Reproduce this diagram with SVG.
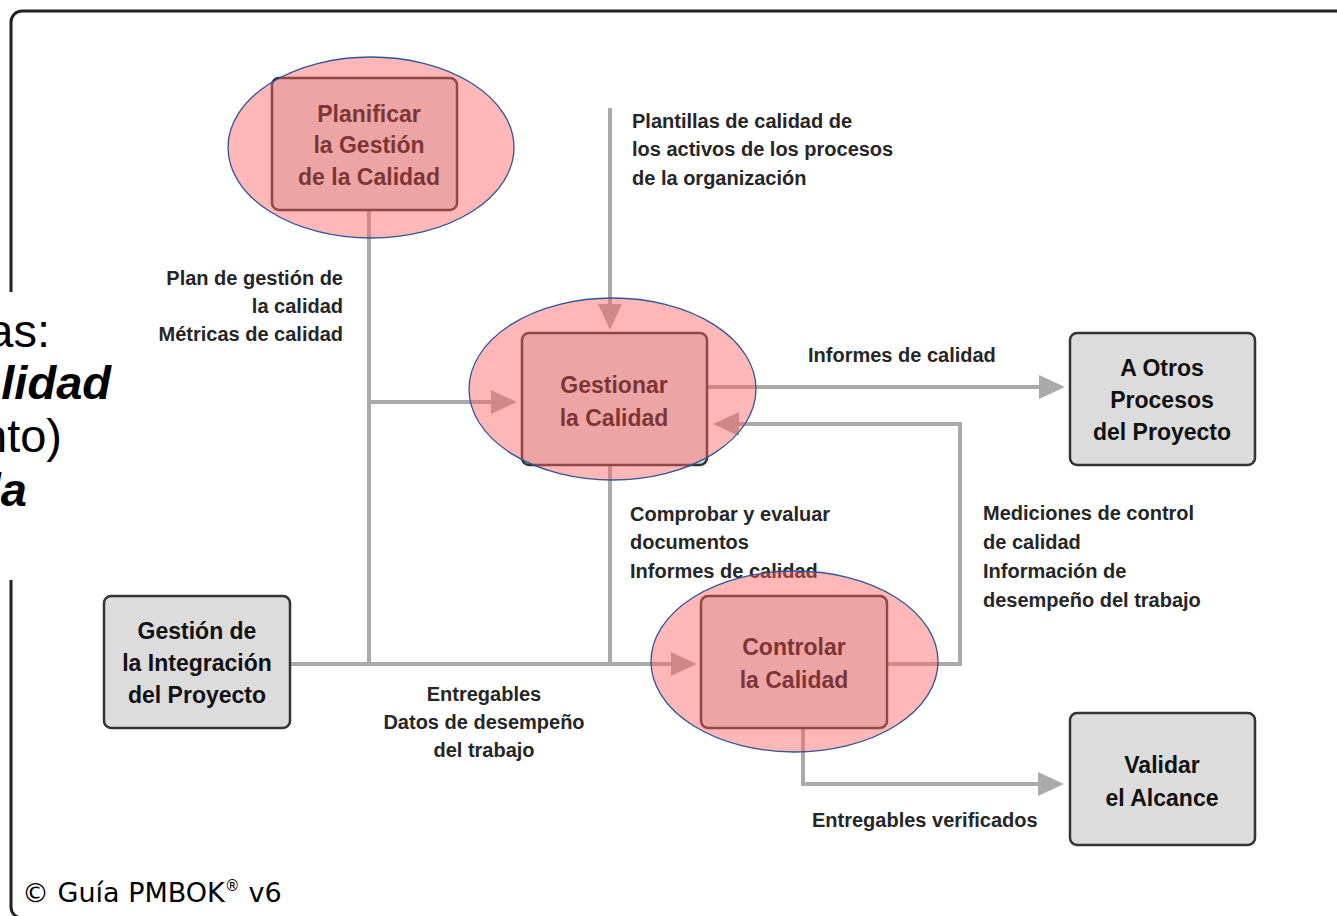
<svg xmlns="http://www.w3.org/2000/svg" width="1337" height="916" viewBox="0 0 1337 916">
<style>
.box{fill:#dcdcdc;stroke:#333;stroke-width:2.5}
.bt{font-family:"Liberation Sans",Arial,sans-serif;font-weight:bold;font-size:23px;fill:#111;text-anchor:middle}
.lb{font-family:"Liberation Sans",Arial,sans-serif;font-weight:bold;font-size:20px;fill:#262626}
.cn{fill:none;stroke:#aaaaaa;stroke-width:4}
.hl{fill:#ff6060;fill-opacity:0.45;stroke:#2f5597;stroke-width:1.3}
.big{font-family:"Liberation Sans",Arial,sans-serif;font-size:47px;fill:#000;text-anchor:end}
</style>
<defs>
<marker id="ah" markerUnits="userSpaceOnUse" markerWidth="26" markerHeight="24" refX="4" refY="12" orient="auto">
<path d="M0,0 L26,12 L0,24 z" fill="#aaaaaa"/>
</marker>
</defs>
<rect x="0" y="0" width="1337" height="916" fill="#ffffff"/>
<rect id="frame" x="11" y="11" width="1345" height="907" rx="11" fill="#ffffff" stroke="#222" stroke-width="3"/>
<g id="connectors">
<path class="cn" d="M369,210 V664"/>
<path class="cn" d="M369,402 H495" marker-end="url(#ah)"/>
<path class="cn" d="M610,108 V308" marker-end="url(#ah)"/>
<path class="cn" d="M707,387 H1043" marker-end="url(#ah)"/>
<path class="cn" d="M887,664 H960 V424 H735" marker-end="url(#ah)"/>
<path class="cn" d="M610,465 V664"/>
<path class="cn" d="M290,664 H675" marker-end="url(#ah)"/>
<path class="cn" d="M803,728 V784 H1042" marker-end="url(#ah)"/>
</g>
<g id="planificar">
<rect class="box" x="272" y="78" width="185" height="132" rx="7"/>
<text class="bt" x="369" y="122">Planificar</text>
<text class="bt" x="369" y="153">la Gestión</text>
<text class="bt" x="369" y="185">de la Calidad</text>
</g>
<g id="gestionar">
<rect class="box" x="522" y="333" width="185" height="132" rx="7"/>
<text class="bt" x="614" y="393">Gestionar</text>
<text class="bt" x="614" y="426">la Calidad</text>
</g>
<g id="controlar">
<rect class="box" x="701" y="596" width="186" height="132" rx="7"/>
<text class="bt" x="794" y="655">Controlar</text>
<text class="bt" x="794" y="688">la Calidad</text>
</g>
<g id="otros">
<rect class="box" x="1070" y="333" width="185" height="132" rx="7"/>
<text class="bt" x="1162" y="376">A Otros</text>
<text class="bt" x="1162" y="408">Procesos</text>
<text class="bt" x="1162" y="440">del Proyecto</text>
</g>
<g id="integracion">
<rect class="box" x="104" y="596" width="186" height="132" rx="7"/>
<text class="bt" x="197" y="639">Gestión de</text>
<text class="bt" x="197" y="671">la Integración</text>
<text class="bt" x="197" y="703">del Proyecto</text>
</g>
<g id="validar">
<rect class="box" x="1070" y="713" width="185" height="132" rx="7"/>
<text class="bt" x="1162" y="773">Validar</text>
<text class="bt" x="1162" y="806">el Alcance</text>
</g>
<g id="labels">
<text class="lb" text-anchor="end" x="343" y="285">Plan de gestión de</text>
<text class="lb" text-anchor="end" x="343" y="313">la calidad</text>
<text class="lb" text-anchor="end" x="343" y="341">Métricas de calidad</text>
<text class="lb" x="632" y="128">Plantillas de calidad de</text>
<text class="lb" x="632" y="156">los activos de los procesos</text>
<text class="lb" x="632" y="185">de la organización</text>
<text class="lb" x="808" y="362">Informes de calidad</text>
<text class="lb" x="630" y="521">Comprobar y evaluar</text>
<text class="lb" x="630" y="549">documentos</text>
<text class="lb" x="630" y="578">Informes de calidad</text>
<text class="lb" x="983" y="520">Mediciones de control</text>
<text class="lb" x="983" y="549">de calidad</text>
<text class="lb" x="983" y="578">Información de</text>
<text class="lb" x="983" y="607">desempeño del trabajo</text>
<text class="lb" text-anchor="middle" x="484" y="701">Entregables</text>
<text class="lb" text-anchor="middle" x="484" y="729">Datos de desempeño</text>
<text class="lb" text-anchor="middle" x="484" y="757">del trabajo</text>
<text class="lb" x="812" y="827">Entregables verificados</text>
</g>
<g id="highlights">
<ellipse class="hl" cx="371" cy="147.5" rx="143" ry="90.5"/>
<ellipse class="hl" cx="612.5" cy="389" rx="143.5" ry="91"/>
<ellipse class="hl" cx="794.5" cy="661.5" rx="143.5" ry="90.5"/>
</g>
<g id="overlay-text">
<rect x="0" y="292" width="143" height="288" fill="#ffffff"/>
<text class="big" x="50" y="347">as:</text>
<text class="big" x="111" y="399" font-weight="bold" font-style="italic">lidad</text>
<text class="big" x="62" y="452">nto)</text>
<text class="big" x="27" y="506" font-weight="bold" font-style="italic">la</text>
</g>
<text x="22" y="902" font-family="'DejaVu Sans',sans-serif" font-size="27" fill="#000">© Guía PMBOK<tspan font-size="15" dy="-11">®</tspan><tspan dy="11"> v6</tspan></text>
</svg>
